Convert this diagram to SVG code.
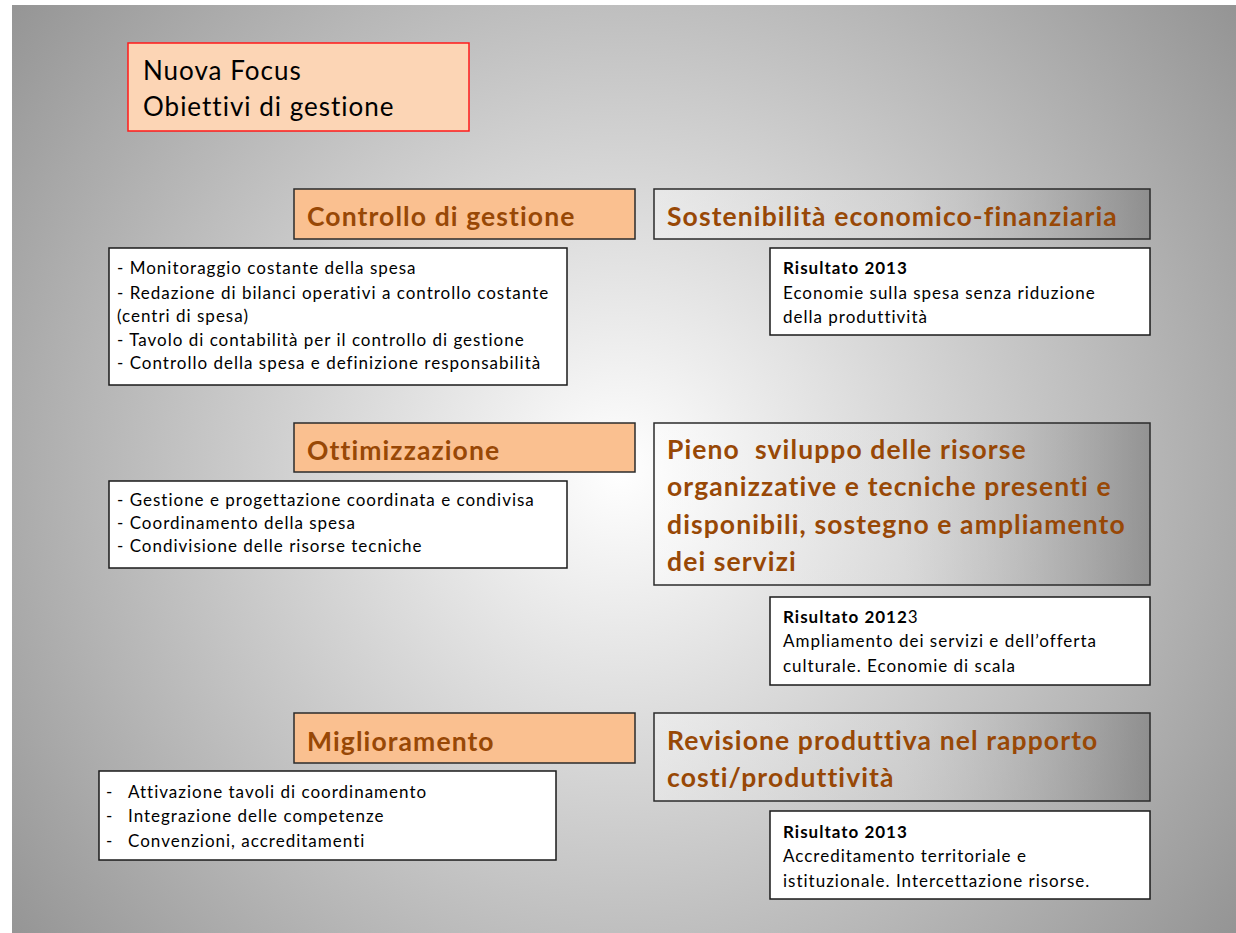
<svg xmlns="http://www.w3.org/2000/svg" width="1236" height="933" viewBox="0 0 1236 933">
<defs>
<radialGradient id="bg" gradientUnits="userSpaceOnUse" cx="620" cy="470" r="780">
<stop offset="0" stop-color="#ffffff"/>
<stop offset="1" stop-color="#939393"/>
</radialGradient>
<linearGradient id="hg" x1="0" y1="0" x2="1" y2="0">
<stop offset="0" stop-color="#ffffff" stop-opacity="0.4"/>
<stop offset="0.5" stop-color="#e6e6e6" stop-opacity="0.25"/>
<stop offset="1" stop-color="#707070" stop-opacity="0.5"/>
</linearGradient>
<style>
.t{font-family:Lato,"Open Sans","Liberation Sans",sans-serif;letter-spacing:1px}
.h{font-family:Lato,"Open Sans","Liberation Sans",sans-serif;font-weight:bold;font-size:26.5px;fill:#984806;letter-spacing:1.1px}
.s{font-family:Lato,"Open Sans","Liberation Sans",sans-serif;font-size:17px;fill:#000;letter-spacing:1px}
.b{font-weight:bold}
.or{fill:#fac090;stroke:#2b2b2b;stroke-width:1.5}
.gr{fill:url(#hg);stroke:#2b2b2b;stroke-width:1.5}
.wh{fill:#ffffff;stroke:#1a1a1a;stroke-width:1.5}
</style>
</defs>
<rect x="0" y="0" width="1236" height="933" fill="#ffffff"/>
<rect x="12" y="5" width="1224" height="928" fill="url(#bg)"/>

<g id="title">
<rect x="128" y="43" width="341" height="88" fill="#fcd5b5" stroke="#ff1a1a" stroke-width="1.5"/>
<text class="t" x="143" y="80" font-size="26" fill="#000">Nuova Focus</text>
<text class="t" x="143" y="116" font-size="26" fill="#000">Obiettivi di gestione</text>
</g>

<g id="controllo">
<rect class="or" x="294" y="189" width="341" height="50"/>
<text class="h" x="307" y="226">Controllo di gestione</text>
</g>
<g id="sostenibilita">
<rect class="gr" x="654" y="189" width="496" height="50"/>
<text class="h" x="667" y="226">Sostenibilità economico-finanziaria</text>
</g>
<g id="lista1">
<rect class="wh" x="109" y="248" width="458" height="137"/>
<text class="s" x="117" y="274">- Monitoraggio costante della spesa</text>
<text class="s" x="117" y="299">- Redazione di bilanci operativi a controllo costante</text>
<text class="s" x="117" y="322">(centri di spesa)</text>
<text class="s" x="117" y="346">- Tavolo di contabilità per il controllo di gestione</text>
<text class="s" x="117" y="369">- Controllo della spesa e definizione responsabilità</text>
</g>
<g id="risultato1">
<rect class="wh" x="770" y="248" width="380" height="87"/>
<text class="s b" x="783" y="274">Risultato 2013</text>
<text class="s" x="783" y="299">Economie sulla spesa senza riduzione</text>
<text class="s" x="783" y="323">della produttività</text>
</g>

<g id="ottimizzazione">
<rect class="or" x="294" y="423" width="341" height="49"/>
<text class="h" x="307" y="460">Ottimizzazione</text>
</g>
<g id="pieno">
<rect class="gr" x="654" y="423" width="496" height="162"/>
<text class="h" x="667" y="459" xml:space="preserve">Pieno  sviluppo delle risorse</text>
<text class="h" x="667" y="496">organizzative e tecniche presenti e</text>
<text class="h" x="667" y="534">disponibili, sostegno e ampliamento</text>
<text class="h" x="667" y="571">dei servizi</text>
</g>
<g id="lista2">
<rect class="wh" x="109" y="481" width="458" height="87"/>
<text class="s" x="117" y="506">- Gestione e progettazione coordinata e condivisa</text>
<text class="s" x="117" y="529">- Coordinamento della spesa</text>
<text class="s" x="117" y="552">- Condivisione delle risorse tecniche</text>
</g>
<g id="risultato2">
<rect class="wh" x="770" y="597" width="380" height="88"/>
<text class="s" x="783" y="623"><tspan class="b">Risultato 2012</tspan>3</text>
<text class="s" x="783" y="647">Ampliamento dei servizi e dell’offerta</text>
<text class="s" x="783" y="672">culturale. Economie di scala</text>
</g>

<g id="miglioramento">
<rect class="or" x="294" y="713" width="341" height="50"/>
<text class="h" x="307" y="751">Miglioramento</text>
</g>
<g id="revisione">
<rect class="gr" x="654" y="713" width="496" height="88"/>
<text class="h" x="667" y="750">Revisione produttiva nel rapporto</text>
<text class="h" x="667" y="787">costi/produttività</text>
</g>
<g id="lista3">
<rect class="wh" x="99" y="771" width="457" height="89"/>
<text class="s" x="106" y="798">-</text><text class="s" x="128" y="798">Attivazione tavoli di coordinamento</text>
<text class="s" x="106" y="822">-</text><text class="s" x="128" y="822">Integrazione delle competenze</text>
<text class="s" x="106" y="847">-</text><text class="s" x="128" y="847">Convenzioni, accreditamenti</text>
</g>
<g id="risultato3">
<rect class="wh" x="770" y="811" width="380" height="88"/>
<text class="s b" x="783" y="838">Risultato 2013</text>
<text class="s" x="783" y="862">Accreditamento territoriale e</text>
<text class="s" x="783" y="887">istituzionale. Intercettazione risorse.</text>
</g>
<g id="connectors"/>
</svg>
